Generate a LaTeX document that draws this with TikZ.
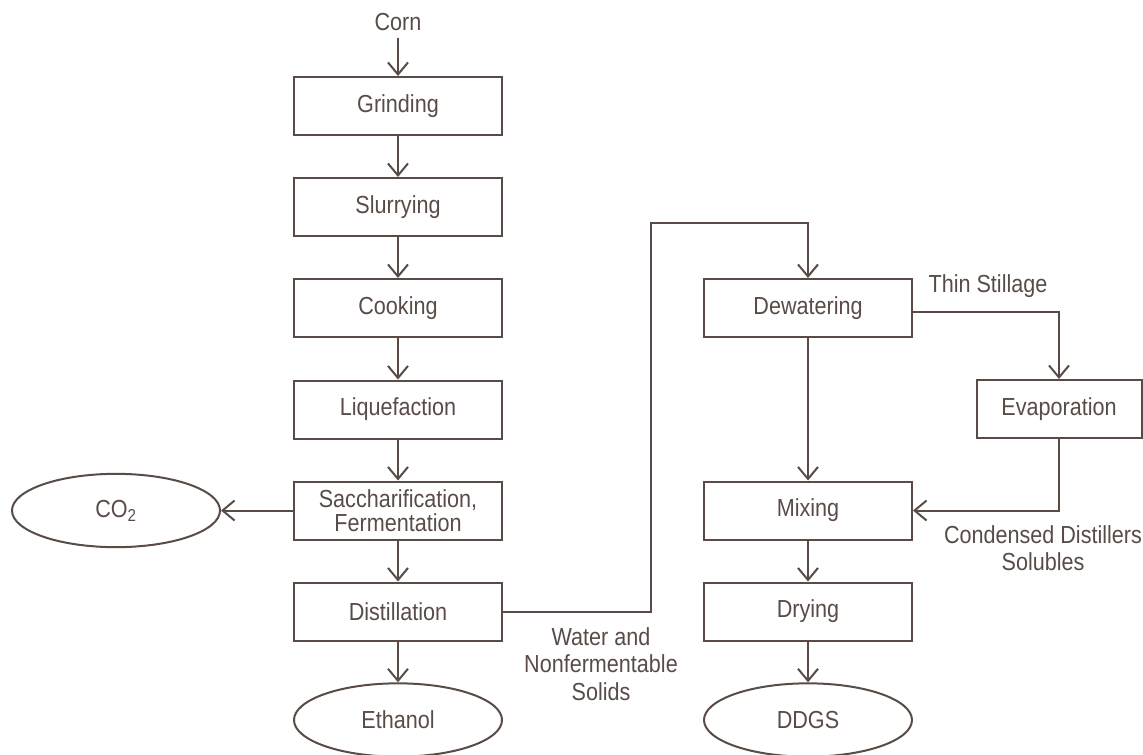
\documentclass[tikz,border=0pt]{standalone}
\usepackage{fontspec}
\setmainfont{Liberation Sans}[FakeStretch=0.875]
\usetikzlibrary{shapes.geometric,arrows.meta}
\definecolor{inkbrown}{RGB}{89,76,71}

\tikzset{every picture/.style={line width=1.5pt}}
\tikzset{
  procbox/.style={draw=inkbrown, text=inkbrown, minimum width=156pt, minimum height=43.5pt, inner sep=0pt, align=center, font=\fontsize{18.5pt}{17.8pt}\selectfont},
  prodell/.style={ellipse, draw=inkbrown, text=inkbrown, minimum width=156pt, minimum height=55pt, inner sep=0pt, font=\fontsize{18.5pt}{17.8pt}\selectfont},
  flowlabel/.style={text=inkbrown, align=center, inner sep=0pt, font=\fontsize{18.5pt}{20.6pt}\selectfont},
  flowarrow/.style={draw=inkbrown, -{Straight Barb[length=9pt,width=15pt]}},
}

\begin{document}
\begin{tikzpicture}[x=0.75pt,y=0.75pt,yscale=-1,xscale=1]
%set diagram left start at 0, and has height of 754
\useasboundingbox (0,0) rectangle (1143,754);

%Flowchart: Process 
\node [procbox] (grind) at (398,106) {Grinding};
\node [procbox] (slurry) at (398,207) {Slurrying};
\node [procbox] (cook) at (398,308) {Cooking};
\node [procbox] (liquef) at (398,409.5) {Liquefaction};
\node [procbox] (sacch) at (398,510.5) {Saccharification,\\Fermentation};
\node [procbox] (distil) at (398,611.5) {Distillation};
\node [procbox] (dewater) at (808,308) {Dewatering};
\node [procbox, minimum width=123.75pt] (evap) at (1059,409) {Evaporation};
\node [procbox] (mixing) at (808,510.5) {Mixing};
\node [procbox] (drying) at (808,611.5) {Drying};

%Flowchart: Terminator 
\node [prodell] (co2) at (116,510.5) {CO\textsubscript{2}};
\node [prodell] (ethanol) at (398,720) {Ethanol};
\node [prodell] (ddgs) at (808,720) {DDGS};

% Text Node
\node [flowlabel, inner sep=5pt] (corn) at (398,22) {Corn};
\node [flowlabel] (thinlbl) at (988,286) {Thin Stillage};
\node [flowlabel] (cdslbl) at (1043,548) {Condensed Distillers\\Solubles};
\node [flowlabel] (waterlbl) at (601,664) {Water and\\Nonfermentable\\Solids};

%Straight Lines 
\draw [flowarrow] (corn) -- (grind);
\draw [flowarrow] (grind) -- (slurry);
\draw [flowarrow] (slurry) -- (cook);
\draw [flowarrow] (cook) -- (liquef);
\draw [flowarrow] (liquef) -- (sacch);
\draw [flowarrow] (sacch) -- (co2);
\draw [flowarrow] (sacch) -- (distil);
\draw [flowarrow] (distil) -- (ethanol);

%Connector: stillage loop
\coordinate (bendtop) at (651,222.7);
\draw [flowarrow] (distil.east) -| (bendtop) -| (dewater.north);
\draw [flowarrow] ([yshift=3pt]dewater.east) -| (evap.north);
\draw [flowarrow] (evap.south) |- (mixing.east);

\draw [flowarrow] (dewater) -- (mixing);
\draw [flowarrow] (mixing) -- (drying);
\draw [flowarrow] (drying) -- (ddgs);

\end{tikzpicture}
\end{document}
